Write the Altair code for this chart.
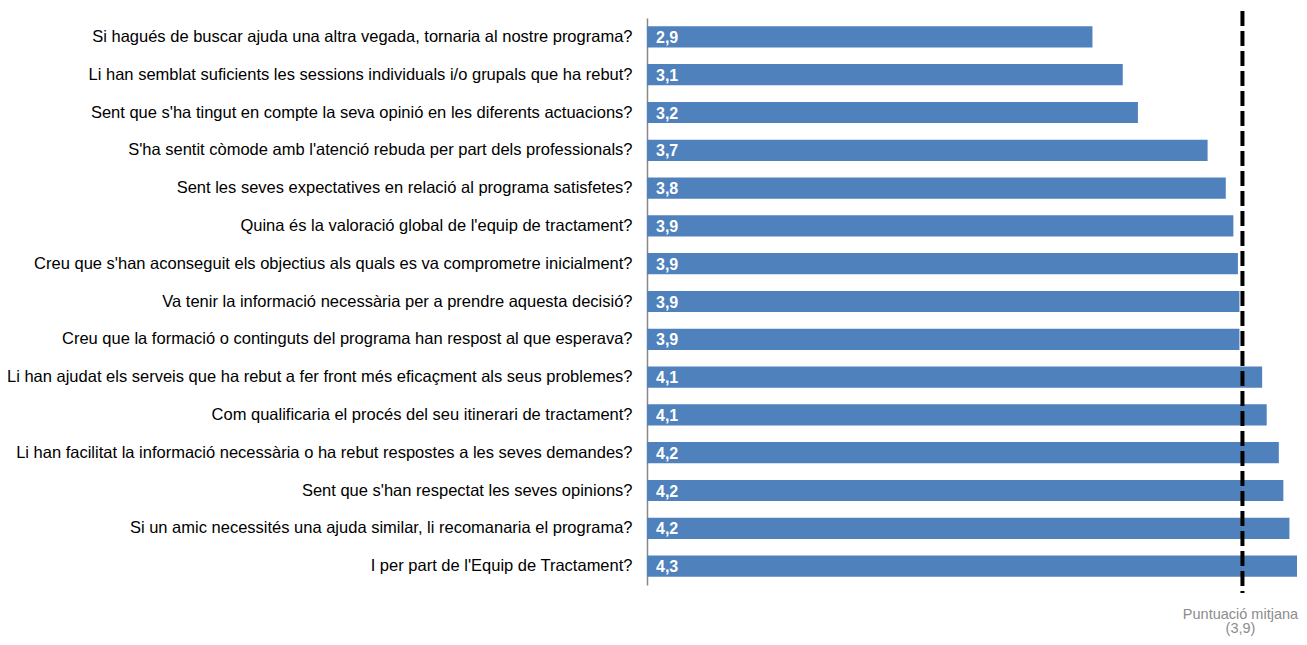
import altair as alt
import pandas as pd

questions = [
    "Si hagués de buscar ajuda una altra vegada, tornaria al nostre programa?",
    "Li han semblat suficients les sessions individuals i/o grupals que ha rebut?",
    "Sent que s'ha tingut en compte la seva opinió en les diferents actuacions?",
    "S'ha sentit còmode amb l'atenció rebuda per part dels professionals?",
    "Sent les seves expectatives en relació al programa satisfetes?",
    "Quina és la valoració global de l'equip de tractament?",
    "Creu que s'han aconseguit els objectius als quals es va comprometre inicialment?",
    "Va tenir la informació necessària per a prendre aquesta decisió?",
    "Creu que la formació o continguts del programa han respost al que esperava?",
    "Li han ajudat els serveis que ha rebut a fer front més eficaçment als seus problemes?",
    "Com qualificaria el procés del seu itinerari de tractament?",
    "Li han facilitat la informació necessària o ha rebut respostes a les seves demandes?",
    "Sent que s'han respectat les seves opinions?",
    "Si un amic necessités una ajuda similar, li recomanaria el programa?",
    "I per part de l'Equip de Tractament?",
]
scores = [2.94, 3.14, 3.24, 3.70, 3.82, 3.87, 3.90, 3.91, 3.91, 4.06, 4.09, 4.17, 4.20, 4.24, 4.29]
mean_score = 3.93
mean_label = ["Puntuació  mitjana", "(3,9)"]

df = pd.DataFrame({"q": questions, "v": scores})
df["lbl"] = [f"{v:.1f}".replace(".", ",") for v in scores]
mdf = pd.DataFrame({"m": [mean_score]})

FONT = "Liberation Sans"
xscale = alt.Scale(domain=[0, max(scores)], nice=False, zero=True)
yscale = alt.Scale(paddingInner=0.44, paddingOuter=0.22)

base = alt.Chart(df)
bars = base.mark_bar(color="#4F81BD").encode(
    x=alt.X("v:Q", scale=xscale, axis=None),
    y=alt.Y("q:N", sort=questions, scale=yscale,
            axis=alt.Axis(title=None, ticks=False, labelPadding=15, labelFontSize=16.5,
                          labelFont=FONT, labelColor="#000000", domainColor="#888888",
                          domainWidth=1.5, labelLimit=700)),
)
labels = base.mark_text(align="left", baseline="middle", dx=9, dy=1, color="white",
                        fontWeight="bold", fontSize=16, font=FONT).encode(
    x=alt.value(0),
    y=alt.Y("q:N", sort=questions),
    text="lbl:N",
)
rule = alt.Chart(mdf).mark_rule(color="black", strokeWidth=4, strokeDash=[15, 5]).encode(
    x=alt.X("m:Q", scale=xscale),
    y=alt.value(-7),
    y2=alt.value(575),
)
mtext = alt.Chart(mdf).mark_text(align="center", baseline="top", fontSize=14.5, font=FONT,
                                 color="#8C8C8C", lineHeight=14, dx=-2).encode(
    x=alt.X("m:Q", scale=xscale),
    y=alt.value(590),
    text=alt.value(mean_label),
)

chart = alt.layer(bars, labels, rule, mtext).properties(
    width=650, height=567,
    autosize=alt.AutoSizeParams(type="none"),
    padding={"left": 639, "top": 10, "right": 2, "bottom": 52},
).configure_view(stroke=None)

chart.save("out.html", embed_options={"renderer": "svg", "actions": False})
